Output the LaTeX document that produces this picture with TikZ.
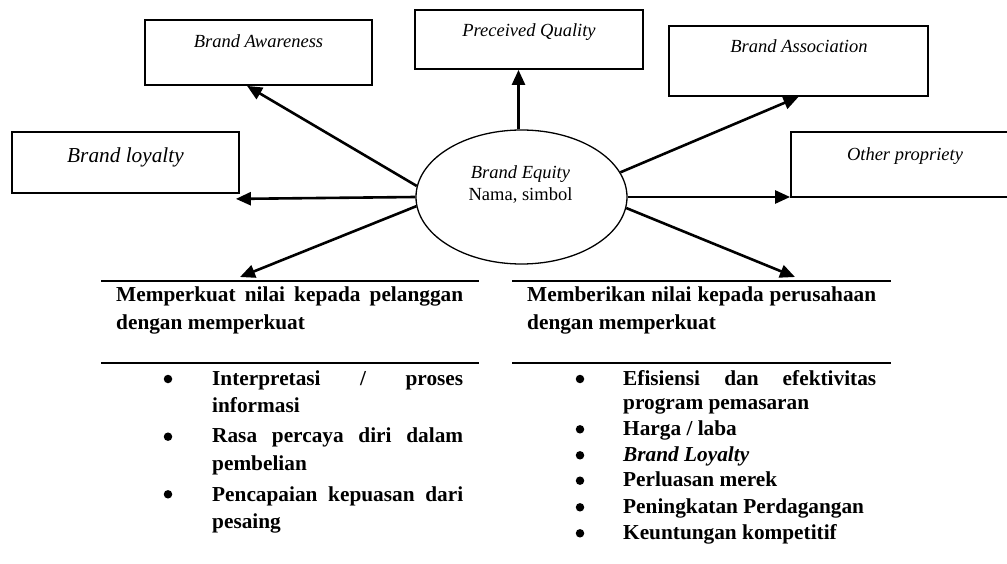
\documentclass[tikz,border=0pt]{standalone}
\usepackage{fontspec}
\setmainfont{Liberation Serif}
\usetikzlibrary{arrows.meta,shapes.geometric,calc}

\begin{document}
\begin{tikzpicture}[x=1pt,y=-1pt,
  box/.style={draw, line width=1.8pt, rectangle, inner sep=0pt},
  lbl/.style={font=\fontsize{18.5}{22}\selectfont\itshape, inner sep=0pt, anchor=base},
  body/.style={font=\fontsize{21.3}{26}\selectfont\bfseries, inner sep=0pt, anchor=base west},
  arr/.style={line width=2.6pt, -{Triangle[length=15pt,width=13pt]}},
  rule/.style={line width=2pt},
  dot/.style={circle, fill, inner sep=0pt, minimum size=8.5pt},
]
\useasboundingbox (0,0) rectangle (1007,564);

% dimension boxes
\node[box, minimum width=227pt, minimum height=65pt] (aw) at (258.5,52.5) {};
\node[box, minimum width=228pt, minimum height=59pt] (pq) at (529,39.5) {};
\node[box, minimum width=259pt, minimum height=70pt] (ba) at (798.5,61) {};
\node[box, minimum width=227pt, minimum height=61pt] (ly) at (125.5,162.5) {};
\node[box, minimum width=228pt, minimum height=65pt] (op) at (905,164.5) {};

\node[lbl] (awt) at (258.5,48) {Brand Awareness};
\node[lbl] (pqt) at (529,37) {Preceived Quality};
\node[lbl] (bat) at (799,53) {Brand Association};
\node[lbl, font=\fontsize{21.3}{26}\selectfont\itshape] (lyt) at (125.5,162.5) {Brand loyalty};
\node[lbl] (opt) at (905,160.5) {Other propriety};

% central ellipse
\node[ellipse, draw, line width=1.3pt, minimum width=211pt, minimum height=134pt, inner sep=0pt] (be) at (521.5,197) {};
\node[lbl] (bet) at (520.5,179) {Brand Equity};
\node[lbl, font=\fontsize{18.5}{22}\selectfont] (bes) at (520.5,201) {Nama, simbol};

% arrow end points
\coordinate (awend) at ($(aw.south west)!0.45!(aw.south east)$);
\coordinate (lyend) at ($(ly.south east)+(-4,5)$);
\coordinate (pqstart) at ($(be.north)+(-3,0)$);
\coordinate (lend) at (240,277);
\coordinate (rend) at (795,277);

\draw[arr] (be.174.5) -- (awend);
\draw[arr] (be.west) -- (lyend);
\draw[arr] (pqstart) -- (pqstart |- pq.south);
\draw[arr] (be.14) -- (ba.south);
\draw[arr] (be.east) -- (be.east -| op.west);
\draw[arr] (be.185.5) -- (lend);
\draw[arr] (be.354.5) -- (rend);

% rules
\coordinate (la1) at (101,281); \coordinate (lb1) at (479,281);
\coordinate (la2) at (101,363); \coordinate (lb2) at (479,363);
\coordinate (ra1) at (512,281); \coordinate (rb1) at (891,281);
\coordinate (ra2) at (512,363); \coordinate (rb2) at (891,363);
\draw[rule] (la1) -- (lb1);
\draw[rule] (la2) -- (lb2);
\draw[rule] (ra1) -- (rb1);
\draw[rule] (ra2) -- (rb2);

% left column
\node[body] (lh1) at (116,301.7) {\makebox[347pt][s]{Memperkuat nilai kepada pelanggan}};
\node[body] (lh2) at (116,329.3) {dengan memperkuat};
\node[dot] (lb1d) at (168,379) {};
\node[dot] (lb2d) at (168,436.7) {};
\node[dot] (lb3d) at (168,494.3) {};
\node[body] (li1a) at (212,385.7) {\makebox[251pt][s]{Interpretasi / proses}};
\node[body] (li1b) at (212,412.7) {informasi};
\node[body] (li2a) at (212,442.7) {\makebox[251pt][s]{Rasa percaya diri dalam}};
\node[body] (li2b) at (212,470) {pembelian};
\node[body] (li3a) at (212,501) {\makebox[251pt][s]{Pencapaian kepuasan dari}};
\node[body] (li3b) at (212,528) {pesaing};

% right column
\node[body] (rh1) at (527,301.7) {\makebox[349pt][s]{Memberikan nilai kepada perusahaan}};
\node[body] (rh2) at (527,329.3) {dengan memperkuat};
\node[dot] (rb1d) at (580,379) {};
\node[dot] (rb2d) at (580,429.3) {};
\node[dot] (rb3d) at (580,455.3) {};
\node[dot] (rb4d) at (580,480.7) {};
\node[dot] (rb5d) at (580,507.3) {};
\node[dot] (rb6d) at (580,533.3) {};
\node[body] (ri1a) at (623,385.7) {\makebox[253pt][s]{Efisiensi dan efektivitas}};
\node[body] (ri1b) at (623,409.3) {program pemasaran};
\node[body] (ri2) at (623,435) {Harga / laba};
\node[body] (ri3) at (623,461.7) {\textit{Brand Loyalty}};
\node[body] (ri4) at (623,486.7) {Perluasan merek};
\node[body] (ri5) at (623,513.3) {Peningkatan Perdagangan};
\node[body] (ri6) at (623,539.3) {Keuntungan kompetitif};
\end{tikzpicture}
\end{document}
